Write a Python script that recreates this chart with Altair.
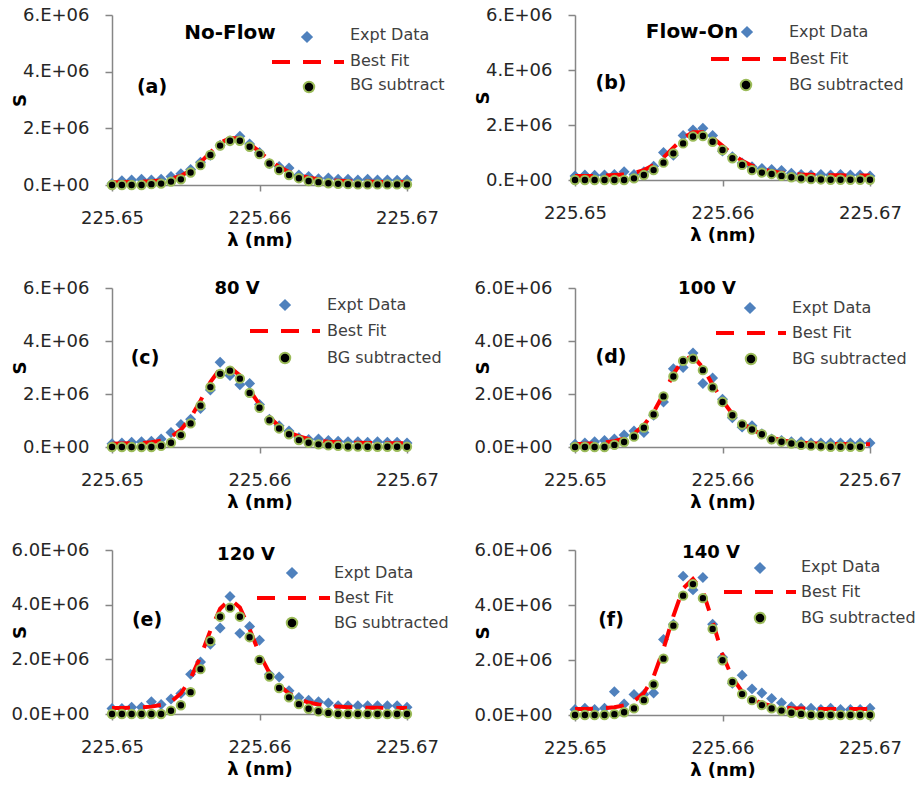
import altair as alt
import pandas as pd

# ---------------- data (S values in units of 1E+06) ----------------
wavelength = [225.65000, 225.65067, 225.65133, 225.65200, 225.65267, 225.65333, 225.65400,
              225.65467, 225.65533, 225.65600, 225.65667, 225.65733, 225.65800, 225.65867,
              225.65933, 225.66000, 225.66067, 225.66133, 225.66200, 225.66267, 225.66333,
              225.66400, 225.66467, 225.66533, 225.66600, 225.66667, 225.66733, 225.66800,
              225.66867, 225.66933, 225.67000]

a_expt = [0.05, 0.15, 0.18, 0.2, 0.18, 0.2, 0.3, 0.4, 0.55, 0.8, 1.05, 1.4, 1.55, 1.72, 1.45, 1.15,
          0.75, 0.65, 0.6, 0.35, 0.3, 0.22, 0.25, 0.2, 0.2, 0.18, 0.2, 0.18, 0.18, 0.17, 0.18]
a_fit = [0.1, 0.1, 0.11, 0.12, 0.13, 0.16, 0.22, 0.32, 0.52, 0.8, 1.15, 1.48, 1.66, 1.64, 1.45, 1.18,
         0.88, 0.64, 0.46, 0.34, 0.26, 0.2, 0.17, 0.15, 0.13, 0.12, 0.12, 0.11, 0.11, 0.11, 0.1]
a_bg = [0, 0, 0, 0, 0.03, 0.05, 0.12, 0.2, 0.44, 0.7, 1.06, 1.39, 1.56, 1.56, 1.35, 1.09,
        0.76, 0.53, 0.35, 0.24, 0.14, 0.1, 0.06, 0.04, 0.03, 0.02, 0.02, 0.02, 0.02, 0.02, 0.02]

b_expt = [0.15, 0.18, 0.17, 0.18, 0.2, 0.3, 0.2, 0.3, 0.5, 1.0, 0.9, 1.62, 1.82, 1.88, 1.62, 1.05,
          0.85, 0.62, 0.48, 0.42, 0.38, 0.35, 0.25, 0.2, 0.18, 0.2, 0.18, 0.2, 0.18, 0.18, 0.15]
b_fit = [0.15, 0.15, 0.15, 0.16, 0.18, 0.2, 0.26, 0.36, 0.54, 0.82, 1.18, 1.52, 1.74, 1.74, 1.54, 1.24,
         0.94, 0.7, 0.52, 0.4, 0.32, 0.26, 0.23, 0.2, 0.19, 0.18, 0.17, 0.17, 0.16, 0.16, 0.16]
b_bg = [0, 0, 0, 0, 0, 0, 0.06, 0.18, 0.36, 0.63, 0.97, 1.33, 1.58, 1.6, 1.39, 1.09,
        0.79, 0.55, 0.36, 0.27, 0.22, 0.15, 0.1, 0.06, 0.03, 0.02, 0.01, 0.01, 0.01, 0.01, 0.01]

c_expt = [0.12, 0.15, 0.18, 0.2, 0.22, 0.3, 0.55, 0.85, 1.05, 1.45, 2.15, 3.2, 2.7, 2.35, 2.4, 1.6,
          1.05, 0.8, 0.6, 0.35, 0.28, 0.3, 0.25, 0.22, 0.2, 0.2, 0.18, 0.2, 0.18, 0.18, 0.15]
c_fit = [0.12, 0.13, 0.14, 0.15, 0.18, 0.24, 0.38, 0.65, 1.1, 1.75, 2.45, 2.95, 3.0, 2.7, 2.15, 1.6,
         1.12, 0.78, 0.55, 0.4, 0.3, 0.24, 0.2, 0.18, 0.17, 0.16, 0.15, 0.15, 0.14, 0.14, 0.14]
c_bg = [0, 0, 0, 0, 0, 0.04, 0.16, 0.45, 0.89, 1.56, 2.26, 2.76, 2.88, 2.58, 2.04, 1.48,
        1.01, 0.7, 0.48, 0.26, 0.16, 0.1, 0.06, 0.04, 0.02, 0.02, 0.01, 0.01, 0.01, 0.01, 0.01]

d_expt = [0.1, 0.15, 0.2, 0.25, 0.3, 0.45, 0.6, 0.55, 1.2, 1.7, 2.95, 3.0, 3.55, 2.4, 2.6, 1.8,
          1.1, 0.75, 0.8, 0.5, 0.3, 0.25, 0.2, 0.2, 0.15, 0.15, 0.15, 0.15, 0.15, 0.15, 0.15]
d_fit = [0.1, 0.12, 0.14, 0.17, 0.22, 0.32, 0.5, 0.82, 1.32, 2.0, 2.75, 3.3, 3.42, 3.0, 2.35, 1.75,
         1.25, 0.9, 0.66, 0.48, 0.35, 0.26, 0.2, 0.16, 0.14, 0.12, 0.11, 0.11, 0.1, 0.1, 0.1]
d_bg = [0, 0, 0, 0, 0.08, 0.19, 0.39, 0.73, 1.23, 1.91, 2.66, 3.25, 3.33, 2.9, 2.25, 1.7,
        1.2, 0.85, 0.66, 0.48, 0.29, 0.2, 0.13, 0.08, 0.05, 0.03, 0.01, 0.01, 0.01, 0.01, None]

e_expt = [0.2, 0.2, 0.25, 0.25, 0.45, 0.35, 0.55, 0.75, 1.45, 1.9, 2.55, 3.15, 4.3, 2.95, 3.2, 2.7,
          1.45, 1.35, 0.85, 0.6, 0.5, 0.45, 0.4, 0.3, 0.3, 0.3, 0.3, 0.3, 0.3, 0.3, 0.25]
e_fit = [0.22, 0.22, 0.23, 0.24, 0.27, 0.33, 0.45, 0.75, 1.3, 2.1, 3.05, 3.85, 4.2, 3.9, 3.1, 2.2,
         1.5, 1.05, 0.75, 0.55, 0.42, 0.35, 0.3, 0.27, 0.25, 0.24, 0.23, 0.23, 0.22, 0.22, 0.22]
e_bg = [0, 0, 0, 0, 0, 0, 0.12, 0.32, 0.8, 1.64, 2.67, 3.56, 3.89, 3.56, 2.81, 1.98,
        1.37, 0.95, 0.61, 0.36, 0.19, 0.1, 0.04, 0, 0, 0, 0, 0, 0, 0, 0]

f_expt = [0.2, 0.25, 0.2, 0.25, 0.85, 0.4, 0.75, 0.75, 0.8, 2.75, 3.3, 5.05, 4.55, 5.0, 3.3, 2.1,
          1.15, 1.45, 0.95, 0.8, 0.6, 0.45, 0.3, 0.25, 0.25, 0.2, 0.25, 0.2, 0.2, 0.2, 0.25]
f_fit = [0.22, 0.22, 0.23, 0.25, 0.28, 0.35, 0.5, 0.8, 1.4, 2.4, 3.6, 4.6, 4.95, 4.5, 3.4, 2.2,
         1.35, 0.85, 0.58, 0.42, 0.33, 0.28, 0.25, 0.24, 0.23, 0.22, 0.22, 0.22, 0.22, 0.22, 0.22]
f_bg = [0, 0, 0, 0, 0.03, 0.1, 0.24, 0.54, 1.11, 2.05, 3.25, 4.34, 4.76, 4.25, 3.13, 1.99,
        1.2, 0.76, 0.54, 0.36, 0.24, 0.16, 0.08, 0.04, 0, 0, 0, 0, 0, 0, 0]

panel_titles = ["No-Flow", "Flow-On", "80 V", "100 V", "120 V", "140 V"]
panel_letters = ["(a)", "(b)", "(c)", "(d)", "(e)", "(f)"]
legend_expt = "Expt Data"
legend_fit = "Best Fit"
legend_bg = ["BG subtract", "BG subtracted", "BG subtracted", "BG subtracted", "BG subtracted", "BG subtracted"]
x_ticks = [225.65, 225.66, 225.67]
y_ticks = [0, 2, 4, 6]
x_title = "λ (nm)"
y_title = "S"

# ---------------- style ----------------
FONT = "DejaVu Sans"
BLUE = "#4F81BD"
GREEN = "#9BBB59"
RED = "#FF0000"
AXIS_GRAY = "#868686"
TEXT = "#404040"

W = 295
heights = [170, 165, 159, 159, 164, 165]
title_sizes = [20, 20, 18, 18, 18, 18]
# positions (px, relative to each plot area): title, letter, diamond, dash x1/x2/y, dot, text x, text ys
layout = [
    dict(title=(118, 18), letter=(40, 72), diamond=(195, 22), dash=(160, 232, 47), dot=(197, 72), tx=238, ty=(20, 46, 70)),
    dict(title=(117, 17), letter=(36, 68), diamond=(172, 17), dash=(136, 211, 44), dot=(171, 70), tx=214, ty=(17, 44, 70)),
    dict(title=(125, 1), letter=(33, 70), diamond=(173, 17), dash=(138, 208, 43), dot=(173, 70), tx=215, ty=(17, 43, 70)),
    dict(title=(132, 1), letter=(36, 69), diamond=(175, 20), dash=(141, 211, 45), dot=(176, 71), tx=217, ty=(20, 45, 71)),
    dict(title=(134, 5), letter=(35, 70), diamond=(180, 23), dash=(145, 218, 48), dot=(180, 73), tx=222, ty=(23, 48, 73)),
    dict(title=(136, 3), letter=(36, 70), diamond=(185, 18), dash=(149, 221, 42), dot=(185, 68), tx=226, ty=(17, 42, 68)),
]


def one_row(value):
    return pd.DataFrame({"t": [value]})


def text_layer(s, x, y, size, weight="normal", align="left", color=TEXT):
    return alt.Chart(one_row(s)).mark_text(
        align=align, baseline="middle", font=FONT, fontSize=size, fontWeight=weight, color=color
    ).encode(x=alt.value(x), y=alt.value(y), text="t:N")


def panel(i, expt, fit, bg):
    h = heights[i]
    lay = layout[i]
    df = pd.DataFrame({"wl": wavelength, "expt": expt, "fit": fit, "bg": bg})
    if i < 3:
        lab = "datum.value == 0 ? '0.E+00' : datum.value + '.E+06'"
    else:
        lab = "datum.value == 0 ? '0.0E+00' : datum.value + '.0E+06'"
    xscale = alt.Scale(domain=[225.65, 225.67], nice=False, zero=False)
    yscale = alt.Scale(domain=[0, 6], nice=False)
    xaxis = alt.Axis(values=x_ticks, format=".2f", title=x_title, domain=True, ticks=True,
                     tickSize=6, labelFlush=False, labelPadding=27, labelBaseline="middle",
                     titleY=55, titleBaseline="middle", titleFontSize=18, titleFontWeight="bold")
    yaxis = alt.Axis(values=y_ticks, labelExpr=lab, title=y_title, domain=True, ticks=True,
                     tickSize=7, labelPadding=16, titleX=-92, titleBaseline="middle",
                     titleFontSize=18, titleFontWeight="bold")

    def enc(field):
        return dict(x=alt.X("wl:Q", scale=xscale, axis=xaxis),
                    y=alt.Y(field + ":Q", scale=yscale, axis=yaxis))

    base = alt.Chart(df)
    expt_l = base.mark_point(shape="diamond", filled=True, color=BLUE, size=120, opacity=1).encode(**enc("expt"))
    fit_l = base.mark_line(color=RED, strokeWidth=4, strokeDash=[18, 13]).encode(**enc("fit"))
    bg_l = base.mark_point(shape="circle", filled=True, fill="#000000", stroke=GREEN, strokeWidth=2,
                           size=70, opacity=1).encode(**enc("bg"))

    layers = [expt_l, fit_l, bg_l]
    tx, ty = lay["title"]
    layers.append(text_layer(panel_titles[i], tx, ty, title_sizes[i], "bold", "center", "#000000"))
    lx, ly = lay["letter"]
    layers.append(text_layer(panel_letters[i], lx, ly, 19, "bold", "center", "#000000"))
    dx, dy = lay["diamond"]
    layers.append(alt.Chart(one_row(legend_expt)).mark_point(
        shape="diamond", filled=True, color=BLUE, size=150, opacity=1).encode(x=alt.value(dx), y=alt.value(dy)))
    x1, x2, yy = lay["dash"]
    layers.append(alt.Chart(one_row(legend_fit)).mark_rule(
        color=RED, strokeWidth=4, strokeDash=[18, 13]).encode(x=alt.value(x1), x2=alt.value(x2), y=alt.value(yy)))
    ox, oy = lay["dot"]
    layers.append(alt.Chart(one_row(legend_bg[i])).mark_point(
        shape="circle", filled=True, fill="#000000", stroke=GREEN, strokeWidth=2, size=110, opacity=1
    ).encode(x=alt.value(ox), y=alt.value(oy)))
    t1, t2, t3 = lay["ty"]
    layers.append(text_layer(legend_expt, lay["tx"], t1, 16))
    layers.append(text_layer(legend_fit, lay["tx"], t2, 16))
    layers.append(text_layer(legend_bg[i], lay["tx"], t3, 16))
    return alt.layer(*layers).properties(width=W, height=h)


panels = [
    panel(0, a_expt, a_fit, a_bg),
    panel(1, b_expt, b_fit, b_bg),
    panel(2, c_expt, c_fit, c_bg),
    panel(3, d_expt, d_fit, d_bg),
    panel(4, e_expt, e_fit, e_bg),
    panel(5, f_expt, f_fit, f_bg),
]

chart = alt.concat(*panels, columns=2, spacing={"row": 103, "column": 168}, bounds="flush").properties(
    padding={"left": 11, "top": 6, "right": 0, "bottom": 0},
    background="#FFFFFF",
).configure_view(strokeWidth=0).configure_axis(
    grid=False,
    domainColor=AXIS_GRAY,
    tickColor=AXIS_GRAY,
    domainWidth=1.5,
    tickWidth=1.5,
    labelFont=FONT,
    labelFontSize=18,
    labelColor="#262626",
    titleFont=FONT,
    titleColor="#000000",
)

chart.save("out.html", embed_options={"renderer": "svg", "actions": False})
